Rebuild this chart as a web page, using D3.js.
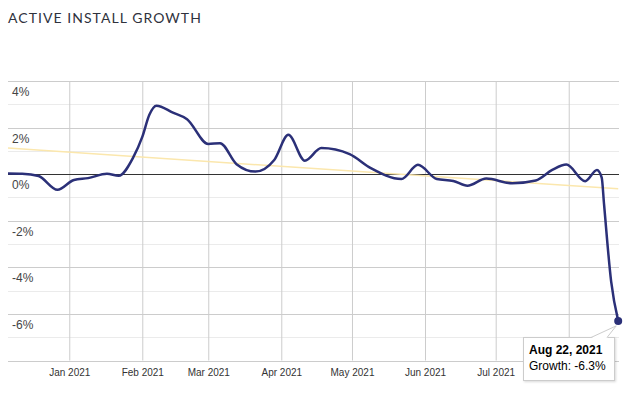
<!DOCTYPE html>
<html>
<head>
<meta charset="utf-8">
<script src="https://cdn.jsdelivr.net/npm/d3@7"></script>
<style>
  body { margin: 0; background: #fff; }
  svg { display: block; }
</style>
</head>
<body>
<div id="chart"></div>
<script>
// values
var dates = ["2020-12-06", "2020-12-12", "2020-12-19", "2020-12-27", "2021-01-03", "2021-01-09",
  "2021-01-17", "2021-01-22", "2021-01-28", "2021-02-01", "2021-02-04", "2021-02-07",
  "2021-02-14", "2021-02-20", "2021-03-01", "2021-03-06", "2021-03-13", "2021-03-21",
  "2021-03-29", "2021-04-04", "2021-04-11", "2021-04-18", "2021-04-30", "2021-05-09",
  "2021-05-22", "2021-05-29", "2021-06-06", "2021-06-13", "2021-06-19", "2021-06-27",
  "2021-07-08", "2021-07-18", "2021-07-25", "2021-07-31", "2021-08-08", "2021-08-13",
  "2021-08-15", "2021-08-16", "2021-08-19", "2021-08-22"];
var growth = [0.03, 0.02, -0.08, -0.67, -0.25, -0.17,
  0.02, -0.07, 0.69, 1.6, 2.55, 2.94,
  2.64, 2.36, 1.30, 1.33, 0.43, 0.11,
  0.61, 1.69, 0.58, 1.12, 0.86, 0.26,
  -0.21, 0.40, -0.21, -0.29, -0.50, -0.19,
  -0.39, -0.27, 0.18, 0.41, -0.30, 0.18,
  -0.15, -1.3, -4.6, -6.3];
var trendDates = ["2020-12-06", "2021-08-22"];
var trendValues = [1.12, -0.63];
var yTicks = [-6, -4, -2, 0, 2, 4];
var yMinor = [-7, -5, -3, -1, 1, 3];
var monthTicks = ["2021-01-01", "2021-02-01", "2021-03-01", "2021-04-01",
  "2021-05-01", "2021-06-01", "2021-07-01", "2021-08-01"];
// the Aug label sits under the tooltip in the reference, so it is left blank
var monthLabels = ["Jan 2021", "Feb 2021", "Mar 2021", "Apr 2021",
  "May 2021", "Jun 2021", "Jul 2021", ""];

var W = 632, H = 396;
var plot = { left: 8, right: 618.2, top: 81, bottom: 360.5 };
var parse = d3.timeParse("%Y-%m-%d");

var data = dates.map(function (d, i) { return { date: parse(d), value: growth[i] }; });
var trend = trendDates.map(function (d, i) { return { date: parse(d), value: trendValues[i] }; });

var x = d3.scaleTime()
    .domain([parse("2020-12-06"), parse("2021-08-22")])
    .range([plot.left, plot.right]);
var y = d3.scaleLinear()
    .domain([-8, 4])
    .range([plot.bottom, plot.top]);

var svg = d3.select("#chart").append("svg")
    .attr("width", W)
    .attr("height", H);

// title
svg.append("text")
    .attr("x", 8)
    .attr("y", 23)
    .style("font-family", "Lato, 'Open Sans', sans-serif")
    .style("font-size", "14px")
    .style("letter-spacing", "1.05px")
    .style("fill", "#2f323d")
    .text("ACTIVE INSTALL GROWTH");

// minor horizontal grid
svg.append("g").selectAll("line")
    .data(yMinor)
    .join("line")
    .attr("x1", plot.left).attr("x2", 619)
    .attr("y1", function (d) { return Math.round(y(d)) + 0.5; })
    .attr("y2", function (d) { return Math.round(y(d)) + 0.5; })
    .attr("stroke", "#ebebeb");

// major horizontal grid
svg.append("g").selectAll("line")
    .data([-8, -6, -4, -2, 2, 4])
    .join("line")
    .attr("x1", plot.left).attr("x2", 619)
    .attr("y1", function (d) { return Math.round(y(d)) + 0.5; })
    .attr("y2", function (d) { return Math.round(y(d)) + 0.5; })
    .attr("stroke", "#cccccc");

// vertical month grid + labels
var xAxis = d3.axisBottom(x)
    .tickValues(monthTicks.map(parse))
    .tickFormat(function (d, i) { return monthLabels[i]; })
    .tickSize(-(plot.bottom - plot.top))
    .tickPadding(8);

var gx = svg.append("g")
    .attr("transform", "translate(0," + plot.bottom + ")")
    .call(xAxis);
gx.select(".domain").remove();
gx.selectAll(".tick line").attr("stroke", "#cccccc");
gx.selectAll(".tick text")
    .style("font-family", "Arial, 'Liberation Sans', sans-serif")
    .style("font-size", "10px")
    .style("fill", "#333");

// y labels sit just under their grid lines
svg.append("g").selectAll("text")
    .data(yTicks)
    .join("text")
    .attr("x", 12)
    .attr("y", function (d) { return y(d) + 15; })
    .style("font-family", "Arial, 'Liberation Sans', sans-serif")
    .style("font-size", "12px")
    .style("fill", "#444")
    .text(function (d) { return d + "%"; });

// zero line
svg.append("line")
    .attr("x1", plot.left).attr("x2", 619)
    .attr("y1", Math.round(y(0)) + 0.5).attr("y2", Math.round(y(0)) + 0.5)
    .attr("stroke", "#333");

// trend line
svg.append("path")
    .datum(trend)
    .attr("fill", "none")
    .attr("stroke", "#fbe7ad")
    .attr("stroke-width", 1.5)
    .attr("d", d3.line()
        .x(function (d) { return x(d.date); })
        .y(function (d) { return y(d.value); }));

// growth line
svg.append("path")
    .datum(data)
    .attr("fill", "none")
    .attr("stroke", "#2b3078")
    .attr("stroke-width", 2.5)
    .attr("d", d3.line()
        .curve(d3.curveMonotoneX)
        .x(function (d) { return x(d.date); })
        .y(function (d) { return y(d.value); }));

var last = data[data.length - 1];
var px = x(last.date), py = y(last.value);

// tooltip
var tip = svg.append("g");
tip.append("rect")
    .attr("x", 523.5).attr("y", 337.5)
    .attr("width", 91).attr("height", 43)
    .attr("fill", "#fff")
    .attr("stroke", "#cccccc")
    .style("filter", "drop-shadow(1px 1px 1px rgba(0,0,0,0.15))");
tip.append("path")
    .attr("d", "M591,338L" + (px - 2) + "," + (py + 5) + "L607,338Z")
    .attr("fill", "#fff")
    .attr("stroke", "none");
tip.append("path")
    .attr("d", "M591,337.5L" + (px - 2) + "," + (py + 5) + "L607,337.5")
    .attr("fill", "none")
    .attr("stroke", "#cccccc");
tip.append("text")
    .attr("x", 529).attr("y", 354)
    .style("font-family", "Arial, 'Liberation Sans', sans-serif")
    .style("font-size", "12px")
    .style("font-weight", "bold")
    .style("fill", "#000")
    .text(d3.timeFormat("%b %-d, %Y")(last.date));
tip.append("text")
    .attr("x", 529).attr("y", 370)
    .style("font-family", "Arial, 'Liberation Sans', sans-serif")
    .style("font-size", "12px")
    .style("fill", "#000")
    .text("Growth: " + last.value + "%");

// end point
svg.append("circle")
    .attr("cx", px).attr("cy", py)
    .attr("r", 4)
    .attr("fill", "#2b3078");
</script>
</body>
</html>
